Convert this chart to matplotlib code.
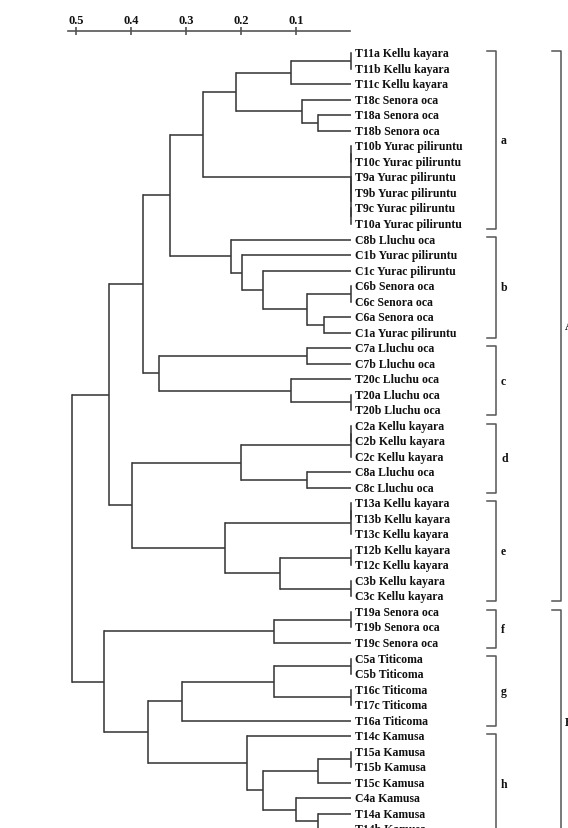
import matplotlib
matplotlib.use('Agg')
import matplotlib.pyplot as plt
import matplotlib.transforms as mtransforms

# ---------------- data ----------------
leaves = [
    'T11a Kellu kayara', 'T11b Kellu kayara', 'T11c Kellu kayara',
    'T18c Senora oca', 'T18a Senora oca', 'T18b Senora oca',
    'T10b Yurac piliruntu', 'T10c Yurac piliruntu', 'T9a Yurac piliruntu',
    'T9b Yurac piliruntu', 'T9c Yurac piliruntu', 'T10a Yurac piliruntu',
    'C8b Lluchu oca', 'C1b Yurac piliruntu', 'C1c Yurac piliruntu',
    'C6b Senora oca', 'C6c Senora oca', 'C6a Senora oca', 'C1a Yurac piliruntu',
    'C7a Lluchu oca', 'C7b Lluchu oca', 'T20c Lluchu oca', 'T20a Lluchu oca',
    'T20b Lluchu oca',
    'C2a Kellu kayara', 'C2b Kellu kayara', 'C2c Kellu kayara',
    'C8a Lluchu oca', 'C8c Lluchu oca',
    'T13a Kellu kayara', 'T13b Kellu kayara', 'T13c Kellu kayara',
    'T12b Kellu kayara', 'T12c Kellu kayara', 'C3b Kellu kayara',
    'C3c Kellu kayara',
    'T19a Senora oca', 'T19b Senora oca', 'T19c Senora oca',
    'C5a Titicoma', 'C5b Titicoma', 'T16c Titicoma', 'T17c Titicoma',
    'T16a Titicoma',
    'T14c Kamusa', 'T15a Kamusa', 'T15b Kamusa', 'T15c Kamusa', 'C4a Kamusa',
    'T14a Kamusa', 'T14b Kamusa',
]
leaf_ids = [s.split()[0] for s in leaves]

# merges: (new node, left child, right child, distance)
merges = [
    ('T11ab', 'T11a', 'T11b', 0.0),
    ('T11', 'T11ab', 'T11c', 0.11),
    ('T18ab', 'T18a', 'T18b', 0.06),
    ('T18', 'T18c', 'T18ab', 0.09),
    ('T11_18', 'T11', 'T18', 0.209),
    ('T10bc', 'T10b', 'T10c', 0.0),
    ('T9ab', 'T9a', 'T9b', 0.0),
    ('T9c10a', 'T9c', 'T10a', 0.0),
    ('T9', 'T9ab', 'T9c10a', 0.0),
    ('T9_10', 'T10bc', 'T9', 0.0),
    ('a', 'T11_18', 'T9_10', 0.27),
    ('C6bc', 'C6b', 'C6c', 0.0),
    ('C6a1a', 'C6a', 'C1a', 0.05),
    ('C6', 'C6bc', 'C6a1a', 0.08),
    ('C1c6', 'C1c', 'C6', 0.16),
    ('C1b6', 'C1b', 'C1c6', 0.199),
    ('b', 'C8b', 'C1b6', 0.219),
    ('ab', 'a', 'b', 0.329),
    ('C7', 'C7a', 'C7b', 0.08),
    ('T20ab', 'T20a', 'T20b', 0.0),
    ('T20', 'T20c', 'T20ab', 0.11),
    ('c', 'C7', 'T20', 0.349),
    ('abc', 'ab', 'c', 0.379),
    ('C2ab', 'C2a', 'C2b', 0.0),
    ('C2', 'C2ab', 'C2c', 0.0),
    ('C8', 'C8a', 'C8c', 0.08),
    ('d', 'C2', 'C8', 0.2),
    ('T13ab', 'T13a', 'T13b', 0.0),
    ('T13', 'T13ab', 'T13c', 0.0),
    ('T12', 'T12b', 'T12c', 0.0),
    ('C3', 'C3b', 'C3c', 0.0),
    ('T12C3', 'T12', 'C3', 0.129),
    ('e', 'T13', 'T12C3', 0.229),
    ('de', 'd', 'e', 0.399),
    ('A', 'abc', 'de', 0.44),
    ('T19ab', 'T19a', 'T19b', 0.0),
    ('f', 'T19ab', 'T19c', 0.14),
    ('C5', 'C5a', 'C5b', 0.0),
    ('T1617', 'T16c', 'T17c', 0.0),
    ('g1', 'C5', 'T1617', 0.14),
    ('g', 'g1', 'T16a', 0.308),
    ('T15ab', 'T15a', 'T15b', 0.0),
    ('T15', 'T15ab', 'T15c', 0.06),
    ('T14ab', 'T14a', 'T14b', 0.06),
    ('C4', 'C4a', 'T14ab', 0.1),
    ('h2', 'T15', 'C4', 0.16),
    ('h', 'T14c', 'h2', 0.19),
    ('gh', 'g', 'h', 0.369),
    ('B', 'f', 'gh', 0.45),
    ('root', 'A', 'B', 0.509),
]

group_names = ['a', 'b', 'c', 'd', 'e', 'f', 'g', 'h']
group_sizes = [12, 7, 5, 5, 7, 3, 5, 7]
super_names = ['A', 'B']
super_groups = [5, 3]
scale_ticks = [0.5, 0.4, 0.3, 0.2, 0.1]
scale_labels = ['0.5', '0.4', '0.3', '0.2', '0.1']

# ---------------- figure ----------------
W, H = 568, 829
fig = plt.figure(figsize=(W / 100, H / 100), dpi=100)
fig.patch.set_facecolor('white')
ax = fig.add_axes([0, 0, 1, 1])
ax.set_xlim(0.6393, -0.3953)
ax.set_ylim(49.92, -3.499)
ax.axis('off')

LC = '#3a3a3a'
LW = 1.15
font = dict(family=['Liberation Serif', 'DejaVu Serif'], weight='bold')

pos = {lid: (float(i), 0.0) for i, lid in enumerate(leaf_ids)}
for node, l, r, dist in merges:
    yl, hl = pos[l]
    yr, hr = pos[r]
    ax.plot([hl, dist], [yl, yl], color=LC, lw=LW, solid_capstyle='butt')
    ax.plot([hr, dist], [yr, yr], color=LC, lw=LW, solid_capstyle='butt')
    ax.plot([dist, dist], [yl, yr], color=LC, lw=LW, solid_capstyle='projecting')
    pos[node] = ((yl + yr) / 2.0, dist)

for i, name in enumerate(leaves):
    ax.annotate(name, (0, i), xytext=(4, 0), textcoords='offset pixels',
                va='center', ha='left', fontsize=8.5, color='#111111',
                annotation_clip=False, **font)

# brackets
trans = mtransforms.blended_transform_factory(ax.transAxes, ax.transData)
BC = '#555555'
def bracket(i0, i1, xv, xt, xl, label):
    top = i0 - 0.14
    bot = i1 + 0.32
    ax.plot([xt, xv, xv, xt], [top, top, bot, bot], color=BC, lw=1.1,
            transform=trans, clip_on=False)
    ax.text(xl, (top + bot) / 2, label, transform=trans, va='center',
            ha='left', fontsize=8.5, color='#111111', **font)

start = 0
group_ranges = []
for gname, gs in zip(group_names, group_sizes):
    bracket(start, start + gs - 1, 496 / W, 486.5 / W, 501 / W, gname)
    group_ranges.append((start, start + gs - 1))
    start += gs

gi = 0
for sname, sg in zip(super_names, super_groups):
    i0 = group_ranges[gi][0]
    i1 = group_ranges[gi + sg - 1][1]
    bracket(i0, i1, 560.5 / W, 551.5 / W, 564.5 / W, sname)
    gi += sg

# scale bar (top axis)
ax2 = fig.add_axes([68 / W, 1 - 32.3 / H, (350 - 68) / W, 1e-4])
ax2.set_xlim(0.5153, 0.0016)
ax2.set_ylim(0, 1)
ax2.patch.set_alpha(0)
for s in ['bottom', 'left', 'right']:
    ax2.spines[s].set_visible(False)
ax2.spines['top'].set_color('#555555')
ax2.spines['top'].set_linewidth(1.2)
ax2.xaxis.tick_top()
ax2.set_yticks([])
ax2.set_xticks(scale_ticks)
ax2.set_xticklabels(scale_labels, fontsize=9, color='#111111', **font)
ax2.tick_params(axis='x', direction='inout', length=6, width=1.2,
                color='#555555', pad=0.5)

fig.savefig('out.png', dpi=100, facecolor='white')
